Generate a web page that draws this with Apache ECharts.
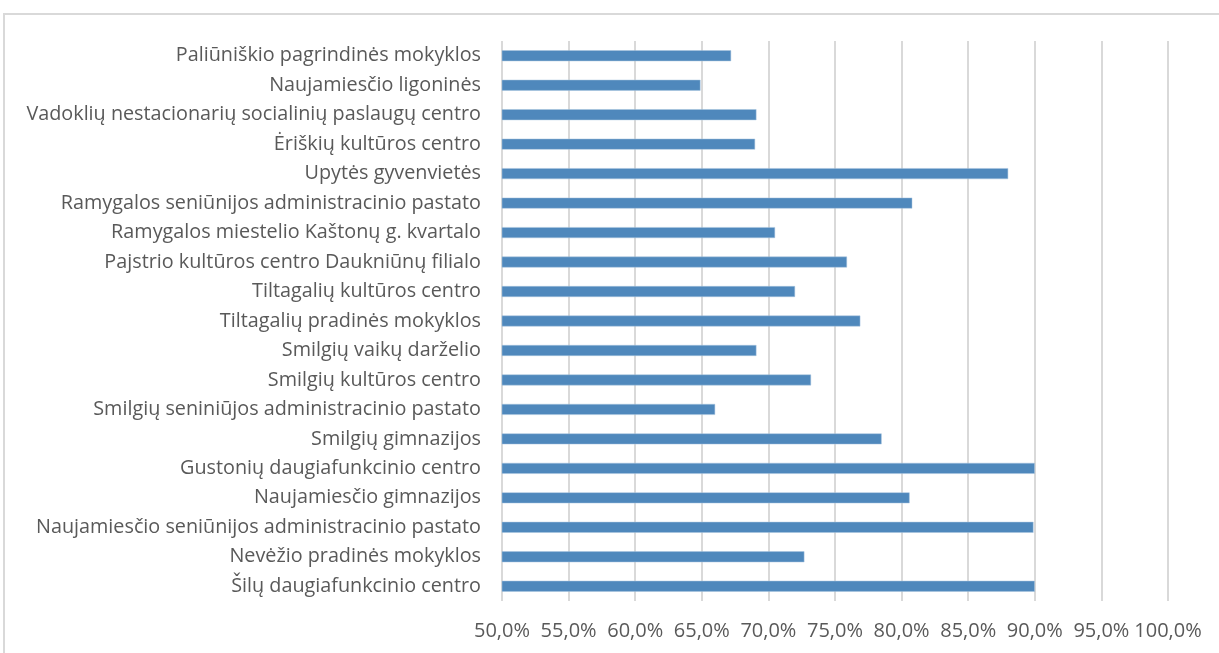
<!DOCTYPE html>
<html>
<head>
<meta charset="utf-8">
<script src="https://cdn.jsdelivr.net/npm/echarts@6/dist/echarts.min.js"></script>
<style>
	html, body { margin: 0; padding: 0; background: #ffffff; }
	#frame {
		position: absolute; left: 3px; top: 13px;
		width: 1300px; height: 700px;
		border: 2px solid #d9d9d9;
	}
	#chart { position: absolute; left: 0; top: 0; width: 1219px; height: 653px; }
</style>
</head>
<body>
<div id="frame"></div>
<div id="chart"></div>
<script>
// pavadinimai (iš viršaus į apačią)
var categories = [
	'Paliūniškio pagrindinės mokyklos',
	'Naujamiesčio ligoninės',
	'Vadoklių nestacionarių socialinių paslaugų centro',
	'Ėriškių kultūros centro',
	'Upytės gyvenvietės',
	'Ramygalos seniūnijos administracinio pastato',
	'Ramygalos miestelio Kaštonų g. kvartalo',
	'Pajstrio kultūros centro Daukniūnų filialo',
	'Tiltagalių kultūros centro',
	'Tiltagalių pradinės mokyklos',
	'Smilgių vaikų darželio',
	'Smilgių kultūros centro',
	'Smilgių seniniūjos administracinio pastato',
	'Smilgių gimnazijos',
	'Gustonių daugiafunkcinio centro',
	'Naujamiesčio gimnazijos',
	'Naujamiesčio seniūnijos administracinio pastato',
	'Nevėžio pradinės mokyklos',
	'Šilų daugiafunkcinio centro'
];

// reikšmės, %
var values = [67.2, 64.9, 69.1, 69.0, 88.0, 80.8, 70.5, 75.9, 72.0, 76.9,
	69.1, 73.2, 66.0, 78.5, 90.0, 80.6, 89.9, 72.7, 90.0];

// ašies ribos
var axisMin = 50;
var axisMax = 100;
var axisStep = 5;

var chart = echarts.init(document.getElementById('chart'));
chart.setOption({
	animation: false,
	grid: {
		left: 502,
		right: 51,
		top: 41,
		bottom: 52,
		containLabel: false
	},
	xAxis: {
		type: 'value',
		min: axisMin,
		max: axisMax,
		interval: axisStep,
		axisLine: { show: false },
		axisTick: { show: false },
		axisLabel: {
			color: '#595959',
			fontFamily: 'Open Sans',
			fontSize: 20,
			margin: 20,
			formatter: function(v) {
				return v.toFixed(1).replace('.', ',') + '%';
			}
		},
		splitLine: {
			lineStyle: { color: '#d9d9d9', width: 2 }
		}
	},
	yAxis: {
		type: 'category',
		inverse: true,
		data: categories,
		axisLine: { show: false },
		axisTick: { show: false },
		axisLabel: {
			color: '#595959',
			fontFamily: 'Open Sans',
			fontSize: 19.8,
			margin: 21
		}
	},
	series: [{
		type: 'bar',
		data: values,
		barCategoryGap: '63%',
		itemStyle: {
			color: '#4f88bc',
			borderColor: '#a9c4de',
			borderWidth: 0.5
		}
	}]
});
</script>
</body>
</html>
